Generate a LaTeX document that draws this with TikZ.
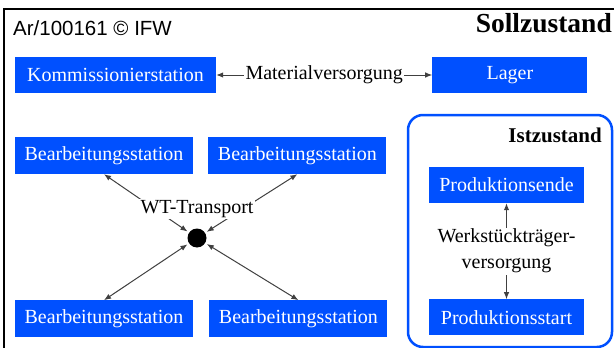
\documentclass[tikz,border=0pt]{standalone}
\usepackage{fontspec}
\setmainfont{Liberation Serif}
\newfontfamily\arialfont{Liberation Sans}
\usetikzlibrary{positioning,arrows.meta}
\definecolor{ifwblue}{RGB}{0,80,255}

\begin{document}
\begin{tikzpicture}[
    x=1pt, y=-1pt,
    >={Latex[length=7pt,width=5.5pt]},
    station/.style={rectangle, fill=ifwblue, text=white, minimum height=36pt, inner sep=0pt, font=\fontsize{20}{24}\selectfont},
    bstation/.style={station, minimum width=178pt, minimum height=37pt},
    flowtext/.style={fill=white, inner sep=1.5pt, font=\fontsize{20}{26}\selectfont, align=center},
    link/.style={<->, draw=black!75, line width=1pt}
]
\useasboundingbox (0,0) rectangle (614,348);
\clip (0,0) rectangle (614,348);
\draw[line width=1.5pt] (4,9) rectangle (630,360);

\node[font=\arialfont\fontsize{20.5}{24}\selectfont, anchor=base west, inner sep=0pt] (ref) at (13,35) {Ar/100161 © IFW};
\node[font=\bfseries\fontsize{27.5}{30}\selectfont, anchor=base east, inner sep=0pt] (soll) at (612,32) {Sollzustand};

\node[station, minimum width=201pt] (komm) at (115.5,75) {Kommissionierstation};
\node[station, minimum width=155pt, right=216pt of komm] (lager) {Lager};
\draw[link] (komm) -- node[flowtext] {Materialversorgung} (lager);

\node[bstation] (bs1) at (104,155.5) {Bearbeitungsstation};
\node[bstation, right=15pt of bs1] (bs2) {Bearbeitungsstation};
\node[bstation, below=126pt of bs1] (bs3) {Bearbeitungsstation};
\node[bstation, right=16pt of bs3] (bs4) {Bearbeitungsstation};
\node[circle, fill=black, minimum size=19pt, inner sep=0pt, outer sep=2pt] (hub) at (197,238) {};

\draw[link] (bs1.south) -- (hub);
\draw[link] (bs2.south) -- (hub);
\draw[link] (bs3.north) -- (hub);
\draw[link] (bs4.north) -- (hub);
\node[flowtext] (wt) at (197,209) {WT-Transport};

% Istzustand
\node[draw=ifwblue, line width=2.5pt, rounded corners=15pt, minimum width=204pt, minimum height=232pt] (ist) at (510,231) {};
\node[font=\bfseries\fontsize{21}{24}\selectfont, anchor=base east, inner sep=0pt] (istlabel) at (602,142) {Istzustand};
\node[station, minimum width=155pt] (pe) at (506.5,185) {Produktionsende};
\node[station, minimum width=155pt, below=96pt of pe] (ps) {Produktionsstart};
\draw[link] (pe) -- node[flowtext] {Werkstückträger-\\versorgung} (ps);

\end{tikzpicture}
\end{document}
